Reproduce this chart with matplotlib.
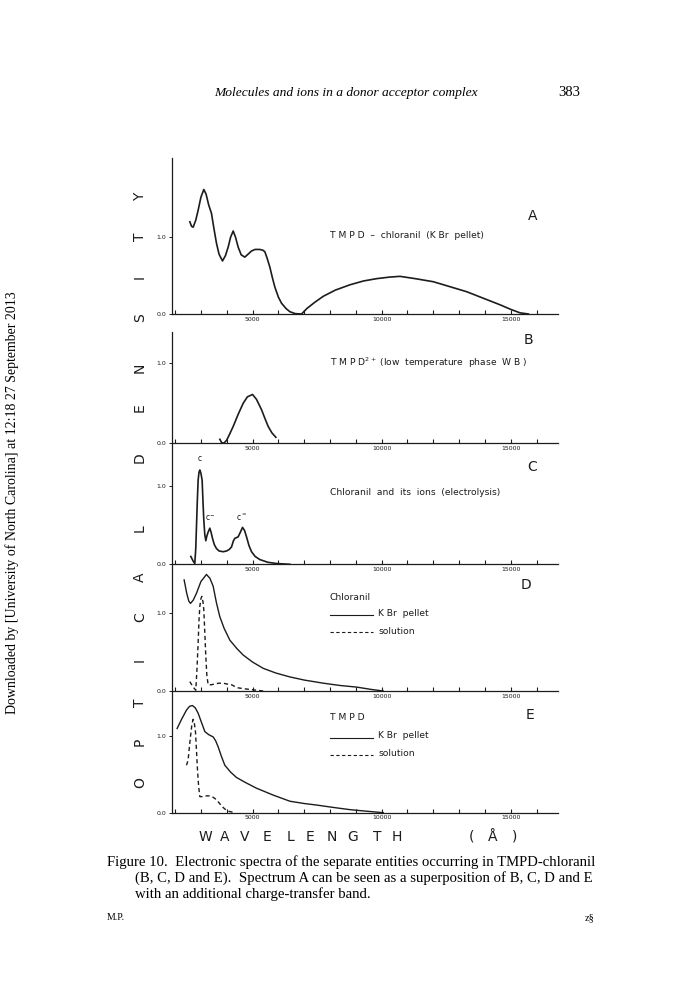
import matplotlib
matplotlib.use("Agg")
import matplotlib.pyplot as plt

# spectra: wavelength (Angstrom) / optical density
a_wl = [2570, 2640, 2700, 2800, 2892, 3000, 3112, 3200, 3300, 3409, 3500, 3603, 3700, 3836,
        3950, 4055, 4150, 4249, 4340, 4443, 4560, 4701, 4830, 4960, 5100, 5283, 5400, 5476,
        5570, 5670, 5770, 5864, 6000, 6122, 6300, 6445, 6650, 6897, 7100, 7400, 7737, 8200,
        8771, 9300, 9805, 10300, 10709, 11300, 12001, 12600, 13293, 13900, 14585, 15000,
        15360, 15683]
a_od = [1.20, 1.14, 1.13, 1.22, 1.35, 1.52, 1.62, 1.56, 1.42, 1.31, 1.12, 0.92, 0.78, 0.69,
        0.76, 0.87, 1.00, 1.08, 1.00, 0.87, 0.77, 0.74, 0.78, 0.82, 0.84, 0.84, 0.83, 0.81,
        0.72, 0.61, 0.47, 0.35, 0.22, 0.14, 0.07, 0.03, 0.005, 0.0, 0.07, 0.15, 0.23, 0.31,
        0.38, 0.43, 0.46, 0.48, 0.49, 0.46, 0.42, 0.36, 0.29, 0.21, 0.12, 0.06,
        0.015, 0.0]

b_wl = [3732, 3800, 3887, 4000, 4120, 4249, 4440, 4637, 4800, 4998, 5150, 5347, 5480, 5606,
        5750, 5903]
b_od = [0.05, 0.01, 0.0, 0.04, 0.12, 0.21, 0.36, 0.50, 0.58, 0.61, 0.55, 0.42, 0.31, 0.21,
        0.13, 0.075]

c_wl = [2608, 2700, 2763, 2800, 2828, 2860, 2892, 2925, 2957, 3000, 3047, 3080, 3112, 3150,
        3190, 3230, 3280, 3345, 3400, 3448, 3520, 3603, 3700, 3861, 4000, 4100, 4184, 4260,
        4314, 4443, 4530, 4611, 4690, 4766, 4860, 4960, 5100, 5283, 5600, 5929, 6445]
c_od = [0.10, 0.04, 0.01, 0.20, 0.48, 0.80, 1.07, 1.17, 1.20, 1.16, 1.07, 0.80, 0.56, 0.38,
        0.30, 0.36, 0.41, 0.46, 0.40, 0.33, 0.25, 0.20, 0.17, 0.16, 0.17, 0.19, 0.22, 0.30,
        0.33, 0.35, 0.41, 0.47, 0.43, 0.35, 0.24, 0.16, 0.10, 0.06, 0.025, 0.01, 0.0]

d_pellet_wl = [2350, 2450, 2530, 2595, 2700, 2828, 3000, 3215, 3350, 3474, 3600, 3732, 3900,
               4120, 4400, 4637, 5000, 5412, 5900, 6445, 7000, 7737, 8400, 9029, 9600, 10063]
d_pellet_od = [1.42, 1.25, 1.15, 1.12, 1.16, 1.25, 1.40, 1.49, 1.44, 1.34, 1.13, 0.95, 0.80,
               0.65, 0.54, 0.46, 0.37, 0.29, 0.23, 0.18, 0.14, 0.10, 0.07, 0.05, 0.02, 0.0]
d_sol_wl = [2569, 2700, 2802, 2850, 2892, 2925, 2957, 3000, 3035, 3075, 3112, 3150, 3190,
            3230, 3280, 3400, 3538, 3700, 3861, 4000, 4184, 4300, 4443, 4650, 4895, 5412]
d_sol_od = [0.12, 0.05, 0.01, 0.30, 0.61, 0.90, 1.08, 1.18, 1.21, 1.15, 1.04, 0.75, 0.44,
            0.20, 0.08, 0.08, 0.09, 0.10, 0.10, 0.09, 0.08, 0.06, 0.04, 0.03, 0.02, 0.0]

e_pellet_wl = [2078, 2250, 2440, 2560, 2673, 2780, 2892, 3000, 3151, 3300, 3474, 3570, 3668,
               3800, 3926, 4150, 4378, 4750, 5153, 5800, 6445, 7000, 7479, 8100, 8771, 9400,
               10063]
e_pellet_od = [1.10, 1.22, 1.34, 1.39, 1.40, 1.37, 1.30, 1.20, 1.06, 1.02, 0.99, 0.94, 0.86,
               0.73, 0.62, 0.53, 0.46, 0.39, 0.32, 0.23, 0.15, 0.12, 0.10, 0.07, 0.04, 0.02,
               0.0]
e_sol_wl = [2440, 2470, 2505, 2550, 2595, 2650, 2699, 2745, 2789, 2830, 2867, 2910, 2957,
            3086, 3220, 3345, 3480, 3603, 3700, 3797, 3920, 4055, 4314]
e_sol_od = [0.62, 0.65, 0.69, 0.85, 0.99, 1.15, 1.22, 1.17, 1.06, 0.80, 0.56, 0.35, 0.21,
            0.21, 0.22, 0.22, 0.20, 0.17, 0.13, 0.09, 0.05, 0.02, 0.0]

tick_wl = list(range(2000, 17000, 1000))
tick_text = ["5000" if t == 5000 else "10000" if t == 10000 else "15000" if t == 15000 else ""
             for t in tick_wl]

W, H = 696, 984
INK = "#1c1c1c"
fig = plt.figure(figsize=(W / 100, H / 100), dpi=100)
fig.patch.set_facecolor("white")


def px(x, y):
    return x / W, 1 - y / H


def panel(top, bottom, ymax):
    left, right = 172, 558
    ax = fig.add_axes([left / W, 1 - bottom / H, (right - left) / W, (bottom - top) / H])
    ax.set_xlim(1880, 16830)
    ax.set_ylim(0, ymax)
    for s in ("top", "right"):
        ax.spines[s].set_visible(False)
    for s in ("left", "bottom"):
        ax.spines[s].set_color(INK)
        ax.spines[s].set_linewidth(0.9)
    ax.set_xticks(tick_wl)
    ax.set_xticklabels(tick_text)
    ax.set_yticks([0, 1.0])
    ax.set_yticklabels(["0.0", "1.0"])
    ax.tick_params(axis="x", direction="in", length=3, width=0.8, labelsize=4.5, pad=2,
                   colors=INK)
    ax.tick_params(axis="y", direction="out", length=2, width=0.7, labelsize=4.5, pad=2,
                   colors=INK)
    ax.patch.set_alpha(0)
    return ax


lw = 1.2
axA = panel(158, 314, 2.03)
axA.plot(a_wl, a_od, color=INK, lw=lw)
axB = panel(332, 443.3, 1.39)
axB.plot(b_wl, b_od, color=INK, lw=lw)
axC = panel(443.3, 564.3, 1.54)
axC.plot(c_wl, c_od, color=INK, lw=lw)
axD = panel(564.3, 691, 1.62)
axD.plot(d_pellet_wl, d_pellet_od, color=INK, lw=1.0)
axD.plot(d_sol_wl, d_sol_od, color=INK, lw=1.0, dashes=(3, 2.2))
axE = panel(691, 812.7, 1.59)
axE.plot(e_pellet_wl, e_pellet_od, color=INK, lw=1.0)
axE.plot(e_sol_wl, e_sol_od, color=INK, lw=1.0, dashes=(3, 2.2))

sans = "DejaVu Sans"
lab = dict(fontsize=6.6, color=INK, family=sans, va="center", ha="left")
fig.text(*px(330, 235), "T M P D  –  chloranil  (K Br  pellet)", **lab)
fig.text(*px(330, 363), "T M P D$^{2+}$ (low  temperature  phase  W B )", **lab)
fig.text(*px(330, 493), "Chloranil  and  its  ions  (electrolysis)", **lab)
fig.text(*px(330, 597), "Chloranil", **lab)
fig.text(*px(330, 718), "T M P D", **lab)
for y0 in (615, 738):
    fig.add_artist(plt.Line2D([330 / W, 373 / W], [1 - y0 / H] * 2, color=INK, lw=0.8))
    fig.text(*px(378, y0 - 2), "K Br  pellet", **lab)
    fig.add_artist(plt.Line2D([330 / W, 373 / W], [1 - (y0 + 17) / H] * 2, color=INK, lw=0.8,
                              dashes=(3, 2.2)))
    fig.text(*px(378, y0 + 16), "solution", **lab)

axC.text(2957, 1.29, "c", fontsize=5.5, ha="center", va="bottom", color=INK, family=sans)
axC.text(3345, 0.53, "c$^{-}$", fontsize=5.5, ha="center", va="bottom", color=INK, family=sans)
axC.text(4560, 0.53, "c$^{=}$", fontsize=5.5, ha="center", va="bottom", color=INK, family=sans)

for letter, (x0, y0) in zip("ABCDE", [(533, 216), (528, 340), (532, 467), (526, 585),
                                        (530, 715)]):
    fig.text(*px(x0, y0), letter, fontsize=10, ha="center", va="center", color=INK,
             family=sans)

# spaced axis titles
od_letters = list("OPTICAL") + list("DENSITY")
od_y = [783, 742, 703, 660, 617, 577, 528, 458, 408, 368, 318, 277, 237, 197]
for ch, y0 in zip(od_letters, od_y):
    fig.text(*px(140, y0), ch, rotation=90, fontsize=10, ha="center", va="center", color=INK,
             family=sans)

wl_letters = list("WAVELENGTH") + ["(", "Å", ")"]
wl_x = [205, 225, 245, 267, 290, 310, 332, 353, 377, 397, 472, 493, 515]
for ch, x0 in zip(wl_letters, wl_x):
    fig.text(*px(x0, 837), ch, fontsize=10, ha="center", va="center", color=INK, family=sans)

serif = "Liberation Serif"
fig.text(*px(346, 93), "Molecules and ions in a donor acceptor complex", fontsize=9.7,
         style="italic", family=serif, ha="center", va="center", color="black")
fig.text(*px(569, 93), "383", fontsize=10.5, family=serif, ha="center", va="center",
         color="black")
cap = dict(fontsize=10.6, family=serif, va="center", ha="left", color="black")
fig.text(*px(107, 862), "Figure 10.  Electronic spectra of the separate entities occurring in "
         "TMPD-chloranil", **cap)
fig.text(*px(135, 878), "(B, C, D and E).  Spectrum A can be seen as a superposition of "
         "B, C, D and E", **cap)
fig.text(*px(135, 894), "with an additional charge-transfer band.", **cap)
fig.text(*px(107, 918), "M.P.", fontsize=7, family=serif, va="center", ha="left")
fig.text(*px(590, 918), "z§", fontsize=7.5, family=serif, va="center", ha="center")
fig.text(*px(12, 503), "Downloaded by [University of North Carolina] at 12:18 27 September 2013",
         rotation=90, fontsize=10, family=serif, va="center", ha="center", color="black")

fig.savefig("out.png", dpi=100, facecolor="white")
